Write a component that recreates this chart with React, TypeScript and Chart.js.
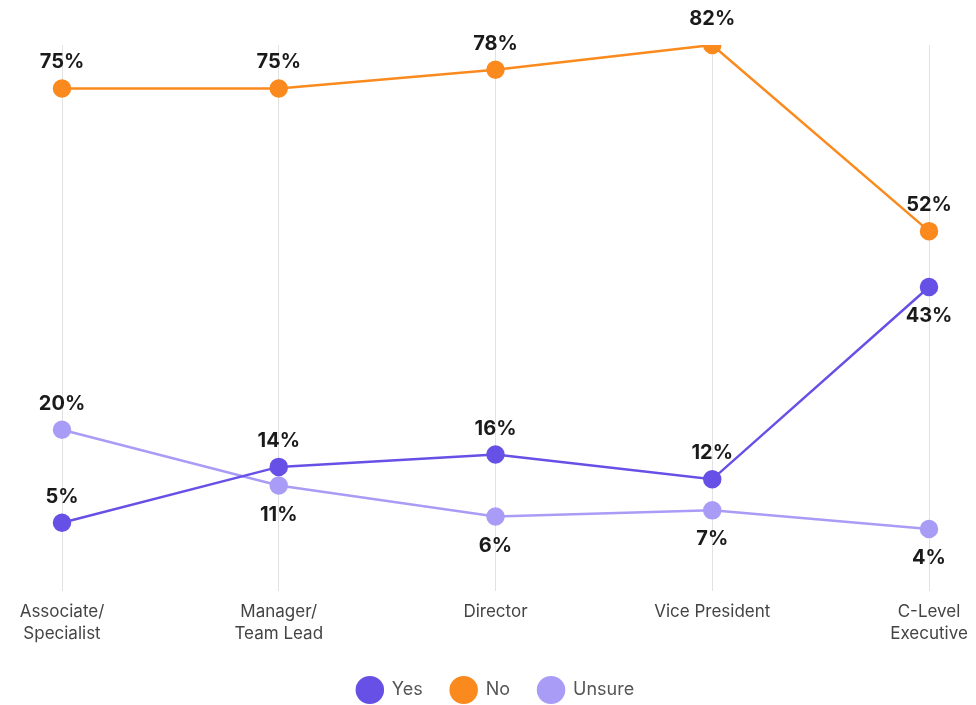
import React, { useEffect, useRef } from "react";
import { Chart, registerables } from "chart.js";

Chart.register(...registerables);

const categories: string[][] = [
  ["Associate/", "Specialist"],
  ["Manager/", "Team Lead"],
  ["Director"],
  ["Vice President"],
  ["C-Level", "Executive"],
];

const yesValues = [5, 14, 16, 12, 43];
const noValues = [75, 75, 78, 82, 52];
const unsureValues = [20, 11, 6, 7, 4];

const yesLabelPos = ["top", "top", "top", "top", "bottom"];
const noLabelPos = ["top", "top", "top", "top", "top"];
const unsureLabelPos = ["top", "bottom", "bottom", "bottom", "bottom"];

const YES = "#6650e6";
const NO = "#fb8a1e";
const UNSURE = "#a99cf6";

const labelPlacements = [yesLabelPos, noLabelPos, unsureLabelPos];

const valueLabels = {
  id: "valueLabels",
  afterDatasetsDraw(chart: any) {
    const ctx = chart.ctx;
    ctx.save();
    ctx.font = "bold 20px Inter, 'Open Sans', sans-serif";
    ctx.fillStyle = "#1a1a1a";
    ctx.textAlign = "center";
    ctx.textBaseline = "middle";
    chart.data.datasets.forEach((ds: any, i: number) => {
      const meta = chart.getDatasetMeta(i);
      meta.data.forEach((pt: any, j: number) => {
        const pos = labelPlacements[i][j];
        const y = pos === "top" ? pt.y - 26 : pt.y + 29;
        ctx.fillText(ds.data[j] + "%", pt.x, y);
      });
    });
    ctx.restore();
  },
};

export default function App() {
  const ref = useRef<HTMLCanvasElement | null>(null);
  useEffect(() => {
    if (!ref.current) return;
    const mk = (label: string, data: number[], color: string) => ({
      label,
      data,
      borderColor: color,
      backgroundColor: color,
      pointBackgroundColor: color,
      pointBorderColor: color,
      pointRadius: 8,
      pointHoverRadius: 8,
      borderWidth: 2.5,
      tension: 0,
    });
    const chart = new Chart(ref.current, {
      type: "line",
      data: {
        labels: categories,
        datasets: [
          mk("Yes", yesValues, YES),
          mk("No", noValues, NO),
          mk("Unsure", unsureValues, UNSURE),
        ],
      },
      options: {
        animation: false,
        responsive: true,
        maintainAspectRatio: false,
        layout: { padding: { left: 54, right: 39, top: 37, bottom: 0 } },
        plugins: {
          tooltip: { enabled: false },
          legend: {
            position: "bottom",
            labels: {
              usePointStyle: true,
              pointStyle: "circle",
              pointStyleWidth: 26,
              boxHeight: 18,
              font: { size: 18, family: "Inter, 'Open Sans', sans-serif" },
              color: "#555",
              padding: 28,
            },
          },
        },
        scales: {
          x: {
            offset: false,
            grid: { display: true, color: "#e2e2e2", drawTicks: false, lineWidth: 1 },
            border: { display: false },
            ticks: {
              color: "#444",
              padding: 10,
              maxRotation: 0,
              autoSkip: false,
              font: { size: 17, family: "Inter, 'Open Sans', sans-serif", lineHeight: 1.3 },
            },
            afterFit: (scale: any) => {
              scale.paddingLeft = 0;
              scale.paddingRight = 0;
              scale.height = 62;
            },
          },
          y: {
            display: false,
            min: -6,
            max: 82,
          },
        },
      },
      plugins: [valueLabels],
    } as any);
    return () => chart.destroy();
  }, []);
  return (
    <div style={{ width: "100%", height: 701 }}>
      <canvas ref={ref} />
    </div>
  );
}
